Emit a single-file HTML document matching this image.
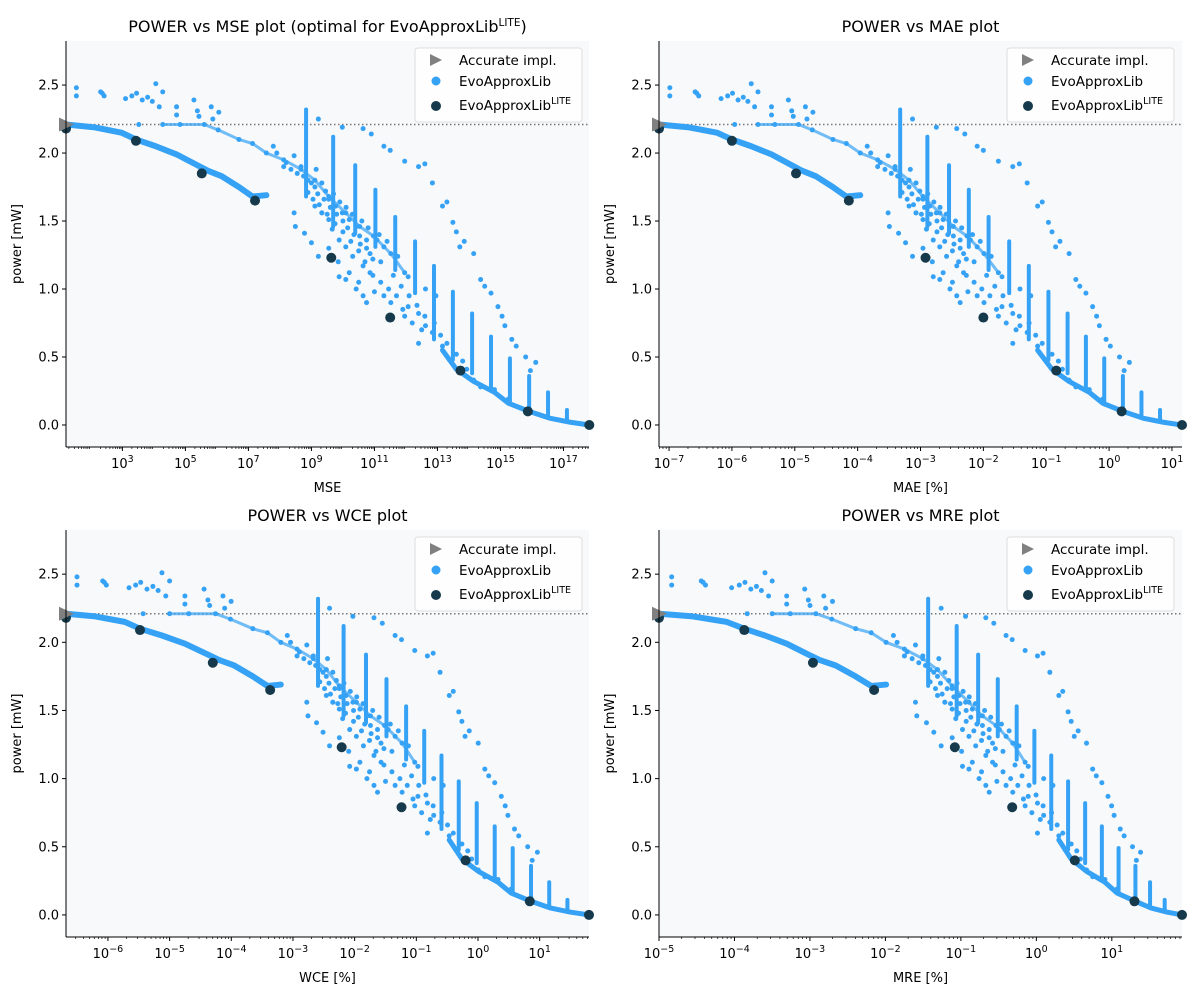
<!DOCTYPE html>
<html><head><meta charset="utf-8"><style>
body{margin:0;background:#fff;}
svg{display:block;font-family:"DejaVu Sans","Liberation Sans",sans-serif;}
</style></head><body>
<svg id="chart" width="1200" height="1000" viewBox="0 0 1200 1000" xmlns="http://www.w3.org/2000/svg"></svg>
<script>
// ---- data (base cloud expressed in log10(MSE) vs power [mW]) ----
const litePower = [2.18, 2.09, 1.85, 1.65, 1.23, 0.79, 0.40, 0.10, 0.0];
const liteMSE = [1.21, 3.43, 5.52, 7.21, 9.63, 11.50, 13.73, 15.87, 17.82];
const liteMAE = [-7.16, -6.00, -4.98, -4.14, -2.92, -2.00, -0.84, 0.20, 1.16];
const liteWCE = [-6.68, -5.48, -4.30, -3.37, -2.21, -1.24, -0.20, 0.84, 1.80];
const liteMRE = [-5.00, -3.87, -2.96, -2.15, -1.08, -0.32, 0.51, 1.30, 1.93];
const accuratePower = 2.21;
const lowerBand = [[1.21,2.21],[2.09,2.19],[2.97,2.15],[3.43,2.10],[4.06,2.05],[4.72,1.99],[5.38,1.91],[5.71,1.87],[6.15,1.83],[6.70,1.75],[7.13,1.68],[7.57,1.69]];
const tailBand = [[13.16,0.55],[13.60,0.41],[14.15,0.32],[14.81,0.24],[15.25,0.16],[15.91,0.10],[16.56,0.05],[17.22,0.02],[17.82,0.0]];
const upperBand = [[4.28,2.21],[5.60,2.21],[6.04,2.17],[6.70,2.10],[7.13,2.07],[7.57,2.00],[8.12,1.95],[8.67,1.88],[9.11,1.80],[9.55,1.68],[10.09,1.56],[10.53,1.46],[10.97,1.39],[11.52,1.26],[11.96,1.12]];
const strips = [[8.83,2.32,1.68],[9.69,2.12,1.46],[10.39,1.91,1.41],[11.03,1.73,1.31],[11.66,1.53,1.14],[12.29,1.35,0.97],[12.89,1.17,0.63],[13.49,0.98,0.48],[14.10,0.82,0.38],[14.70,0.65,0.26],[15.30,0.49,0.16],[15.91,0.36,0.10],[16.51,0.24,0.06],[17.11,0.11,0.03]];
const farBand = [[10.64,2.18],[10.90,2.14],[11.30,2.05],[11.50,2.02],[11.96,1.94],[12.40,1.90],[12.60,1.92],[12.84,1.78],[13.16,1.61],[13.30,1.64],[13.49,1.49],[13.60,1.42],[13.71,1.31],[13.85,1.35],[14.15,1.26],[14.37,1.07],[14.50,1.02],[14.70,0.97],[14.92,0.87],[15.05,0.80],[15.14,0.73],[15.36,0.63],[15.50,0.58],[15.80,0.50],[16.12,0.46],[15.95,0.40]];
const topCluster = [[1.54,2.48],[1.54,2.42],[2.31,2.45],[2.42,2.42],[2.36,2.44],[3.30,2.42],[3.45,2.44],[3.63,2.39],[3.95,2.38],[4.17,2.34],[4.06,2.51],[4.28,2.45],[4.72,2.34],[4.72,2.28],[5.27,2.39],[5.38,2.31],[5.43,2.27],[5.82,2.34],[6.06,2.30],[5.87,2.25],[9.22,2.25],[9.98,2.19],[3.52,2.21],[4.83,2.21],[3.10,2.40],[3.80,2.41]];
const cloud = [[7.79,2.05],[7.90,2.00],[8.12,1.90],[8.45,1.98],[8.67,1.90],[8.89,1.80],[9.11,1.75],[9.33,1.78],[9.55,1.66],[8.89,1.71],[9.11,1.61],[9.33,1.56],[9.55,1.51],[9.77,1.61],[9.98,1.56],[10.20,1.51],[10.42,1.46],[8.45,1.56],[8.49,1.46],[8.78,1.41],[9.00,1.34],[9.22,1.24],[9.33,1.56],[9.66,1.44],[9.88,1.36],[10.09,1.31],[10.31,1.24],[10.53,1.39],[10.75,1.36],[10.86,1.26],[11.08,1.36],[11.30,1.31],[9.88,1.09],[10.09,1.07],[10.42,1.00],[10.64,0.95],[10.75,0.90],[10.64,1.17],[10.86,1.12],[11.30,0.95],[11.52,0.90],[11.96,0.80],[12.07,0.87],[12.40,0.82],[12.62,0.73],[12.84,0.68],[13.16,0.58],[13.38,0.48],[13.93,0.41],[14.15,0.33],[14.37,0.28],[14.81,0.26],[15.25,0.19],[12.62,1.00],[12.07,1.09],[11.74,1.24],[12.95,0.95],[12.40,0.60]];
const cloudDense = [[8.20,1.93],[8.35,1.88],[8.55,1.85],[8.75,1.83],[9.00,1.78],[9.20,1.70],[9.40,1.66],[9.60,1.60],[9.80,1.55],[10.00,1.50],[10.15,1.45],[10.35,1.40],[10.55,1.33],[10.75,1.30],[10.95,1.22],[11.20,1.20],[9.15,1.88],[9.45,1.72],[9.70,1.70],[9.90,1.64],[10.10,1.60],[10.30,1.55],[10.60,1.50],[10.80,1.45],[11.15,1.40],[11.40,1.35],[9.05,1.66],[9.25,1.62],[9.50,1.55],[9.75,1.48],[10.00,1.42],[10.25,1.35],[10.50,1.28],[10.70,1.20],[10.95,1.10],[11.20,1.05],[11.45,1.00],[11.70,0.95],[11.90,0.85],[12.20,0.75],[12.50,0.70],[9.55,1.30],[9.85,1.20],[10.20,1.12],[10.50,1.05],[11.00,0.98],[11.60,1.10],[11.85,1.02],[12.10,0.95],[12.35,0.88],[12.60,0.80],[12.90,0.75],[13.10,0.66],[13.30,0.60],[13.60,0.52],[13.80,0.47]];

const NS = "http://www.w3.org/2000/svg";
const svg = document.getElementById("chart");
const BLUE = "#36a2f5", DARK = "#163a4b";
function mk(tag, attrs, parent){const e=document.createElementNS(NS,tag);for(const k in attrs)e.setAttribute(k,attrs[k]);(parent||svg).appendChild(e);return e;}

const panels = [
 {key:"mse",title:"POWER vs MSE plot (optimal for EvoApproxLib",sup:"LITE",xlabel:"MSE",L:66,R:589,T:41,B:447,xmin:1.21,xmax:17.81,ticks:[3,5,7,9,11,13,15,17],anch:liteMSE,legX:415},
 {key:"mae",title:"POWER vs MAE plot",xlabel:"MAE [%]",L:659,R:1182,T:41,B:447,xmin:-7.16,xmax:1.16,ticks:[-7,-6,-5,-4,-3,-2,-1,0,1],anch:liteMAE,legX:1007},
 {key:"wce",title:"POWER vs WCE plot",xlabel:"WCE [%]",L:66,R:589,T:530,B:937,xmin:-6.68,xmax:1.80,ticks:[-6,-5,-4,-3,-2,-1,0,1],anch:liteWCE,legX:415},
 {key:"mre",title:"POWER vs MRE plot",xlabel:"MRE [%]",L:659,R:1182,T:530,B:937,xmin:-5.0,xmax:1.93,ticks:[-5,-4,-3,-2,-1,0,1],anch:liteMRE,legX:1007}
];
const YMAX=2.824, YMIN=-0.162;

function interp(v, xs, ys){
  let i=0; if(v<=xs[0]) i=0; else if(v>=xs[xs.length-1]) i=xs.length-2; else {while(v>xs[i+1])i++;}
  const t=(v-xs[i])/(xs[i+1]-xs[i]); return ys[i]+t*(ys[i+1]-ys[i]);
}

panels.forEach(P=>{
  const g = mk("g",{});
  
  
  const sx = lx => P.L + (lx-P.xmin)/(P.xmax-P.xmin)*(P.R-P.L);
  const mx = lm => sx(interp(lm, liteMSE, P.anch));
  const sy = p => P.T + (YMAX-p)/(YMAX-YMIN)*(P.B-P.T);
  const clipId="clip-"+P.key;
  const cp=mk("clipPath",{id:clipId},g); mk("rect",{x:P.L,y:P.T,width:P.R-P.L,height:P.B-P.T},cp);
  const bg=mk("rect",{x:P.L,y:P.T,width:P.R-P.L,height:P.B-P.T,fill:"#f8f9fb"},g);
  
  
  const dl=mk("line",{x1:P.L,x2:P.R,y1:sy(accuratePower),y2:sy(accuratePower),stroke:"#777","stroke-width":1.5,"stroke-dasharray":"1.5,2.5"},g);
  
  
  const marks = mk("g",{"clip-path":"url(#"+clipId+")"},g);
  
  
  const line=(arr,w,op)=>{const pl=mk("polyline",{points:arr.map(d=>mx(d[0])+","+sy(d[1])).join(" "),fill:"none",stroke:BLUE,"stroke-width":w,"stroke-linecap":"round","stroke-linejoin":"round",opacity:op},marks);};
  line(lowerBand,6,1); line(tailBand,5,1); line(upperBand,3,0.7);
  strips.forEach(s=>{const l=mk("line",{x1:mx(s[0]),x2:mx(s[0]),y1:sy(s[1]),y2:sy(s[2]),stroke:BLUE,"stroke-width":4,"stroke-linecap":"round"},marks);
    
    });
  [...topCluster,...cloud,...cloudDense,...farBand,...upperBand].forEach(d=>{const c=mk("circle",{cx:mx(d[0]),cy:sy(d[1]),r:2.5,fill:BLUE},marks);
    
    });
  P.anch.forEach((a,i)=>{const c=mk("circle",{cx:sx(a),cy:sy(litePower[i]),r:5,fill:DARK},g);
    
    });
  const ty=sy(accuratePower);
  const tri=mk("polygon",{points:`${P.L-7},${ty-7} ${P.L+8},${ty} ${P.L-7},${ty+7}`,fill:"#808080"},g);
  
  
  mk("line",{x1:P.L,x2:P.L,y1:P.T,y2:P.B,stroke:"#000","stroke-width":1},g);
  mk("line",{x1:P.L,x2:P.R,y1:P.B,y2:P.B,stroke:"#000","stroke-width":1},g);
  [0,0.5,1,1.5,2,2.5].forEach(v=>{const y=sy(v);mk("line",{x1:P.L-4,x2:P.L,y1:y,y2:y,stroke:"#000"},g);
    const t=mk("text",{x:P.L-7,y:y+4.5,"text-anchor":"end","font-size":"13"},g);t.textContent=v.toFixed(1);
    });
  for(let d=Math.floor(P.xmin);d<=Math.ceil(P.xmax);d++){for(let m=2;m<10;m++){const v=d+Math.log10(m);if(v>P.xmin&&v<P.xmax){const x=sx(v);mk("line",{x1:x,x2:x,y1:P.B,y2:P.B+2,stroke:"#000","stroke-width":0.7},g);}}}
  P.ticks.forEach(v=>{const x=sx(v);mk("line",{x1:x,x2:x,y1:P.B,y2:P.B+4,stroke:"#000"},g);
    const t=mk("text",{x:x,y:P.B+21,"text-anchor":"middle","font-size":"13"},g);
    
    const a=mk("tspan",{},t);a.textContent="10";const b=mk("tspan",{dy:"-6","font-size":"9.5"},t);b.textContent=String(v).replace("-","\u2212");});
  const xl=mk("text",{x:(P.L+P.R)/2,y:P.B+45,"text-anchor":"middle","font-size":"13"},g);xl.textContent=P.xlabel;
  
  const yl=mk("text",{transform:`translate(${P.L-45},${(P.T+P.B)/2}) rotate(-90)`,"text-anchor":"middle","font-size":"13"},g);yl.textContent="power [mW]";
  
  const tt=mk("text",{x:(P.L+P.R)/2,y:P.T-9,"text-anchor":"middle","font-size":"16"},g);
  
  const t1=mk("tspan",{},tt);t1.textContent=P.title;
  if(P.sup){const s=mk("tspan",{dy:"-6","font-size":"10.5"},tt);s.textContent=P.sup;const e=mk("tspan",{dy:"6"},tt);e.textContent=")";}
  const lg=mk("g",{},g);
  
  const lx=P.legX, ly=P.T+7;
  mk("rect",{x:lx,y:ly,width:167,height:74,rx:3,fill:"#fff","fill-opacity":0.8,stroke:"#ddd"},lg);
  mk("polygon",{points:`${lx+15},${ly+6} ${lx+27},${ly+12} ${lx+15},${ly+18}`,fill:"#808080"},lg);
  mk("circle",{cx:lx+21,cy:ly+33,r:4.5,fill:BLUE},lg);
  mk("circle",{cx:lx+21,cy:ly+58,r:5,fill:DARK},lg);
  const lt=[["Accurate impl.",ly+17],["EvoApproxLib",ly+38],["EvoApproxLib",ly+62]];
  lt.forEach((d,i)=>{const t=mk("text",{x:lx+44,y:d[1],"font-size":"13.5"},lg);
    
    const a=mk("tspan",{},t);a.textContent=d[0];
    if(i===2){const s=mk("tspan",{dy:"-6","font-size":"9.5"},t);s.textContent="LITE";}});
});
</script>
</body></html>
